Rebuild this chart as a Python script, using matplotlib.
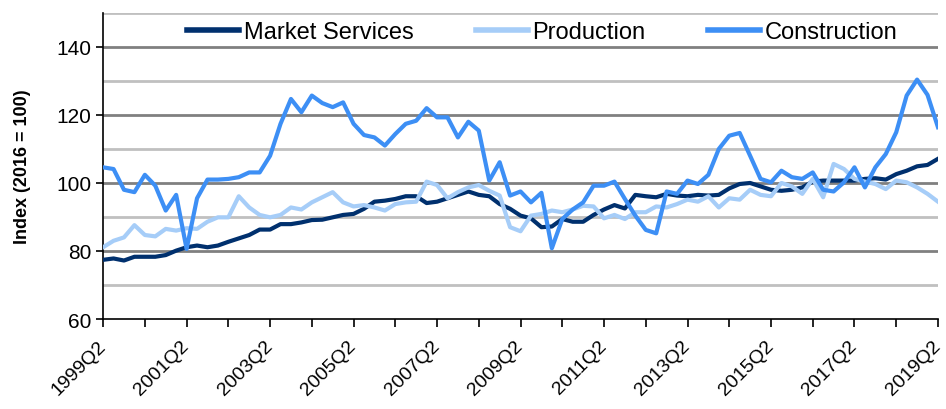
import matplotlib
matplotlib.use("Agg")
import matplotlib.pyplot as plt
import numpy as np

plt.rcParams['font.family'] = ['Liberation Sans', 'DejaVu Sans']

# quarterly index values, 1999Q2 .. 2019Q2
quarters = [f"{1999 + (q + 1) // 4}Q{(q + 1) % 4 + 1}" for q in range(81)]

market_services = [
    77.4, 77.8, 77.2, 78.3, 78.3, 78.3, 78.8, 80.1, 81.1, 81.6,
    81.1, 81.6, 82.7, 83.7, 84.7, 86.3, 86.3, 87.9, 87.9, 88.4,
    89.1, 89.2, 89.9, 90.6, 90.9, 92.4, 94.5, 94.8, 95.3, 96.1,
    96.1, 94.1, 94.5, 95.5, 96.5, 97.5, 96.5, 96.1, 93.8, 92.4,
    90.4, 89.6, 87.0, 87.2, 89.4, 88.6, 88.6, 90.6, 92.2, 93.5,
    92.5, 96.5, 96.1, 95.8, 96.8, 96.3, 96.1, 96.5, 96.3, 96.5,
    98.4, 99.7, 100.0, 99.0, 98.0, 97.7, 98.0, 98.7, 100.4, 100.7,
    100.7, 100.7, 100.7, 101.2, 101.4, 101.0, 102.6, 103.6, 104.9, 105.3,
    107.1,
]
production = [
    81.1, 83.0, 84.0, 87.6, 84.7, 84.3, 86.5, 86.0, 86.7, 86.5,
    88.6, 89.9, 89.9, 96.1, 92.8, 90.6, 89.9, 90.6, 92.8, 92.2,
    94.3, 95.8, 97.3, 94.3, 93.1, 93.5, 92.8, 91.9, 93.8, 94.3,
    94.5, 100.4, 99.4, 95.5, 97.3, 98.7, 99.4, 97.7, 96.3, 87.0,
    85.8, 90.4, 90.9, 91.9, 91.4, 92.2, 93.3, 93.1, 89.6, 90.6,
    89.4, 91.4, 91.4, 93.1, 92.8, 93.8, 95.1, 94.5, 96.1, 92.8,
    95.5, 95.1, 98.0, 96.5, 96.1, 100.0, 99.0, 96.8, 101.2, 95.8,
    105.6, 104.1, 101.2, 100.4, 99.7, 98.2, 100.7, 100.2, 98.7, 96.8,
    94.5,
]
construction = [
    104.6, 104.1, 98.0, 97.3, 102.4, 99.2, 91.9, 96.5, 80.6, 95.5,
    101.0, 101.0, 101.2, 101.7, 103.1, 103.1, 108.0, 117.4, 124.7, 120.8,
    125.7, 123.5, 122.3, 123.7, 117.4, 114.1, 113.4, 111.0, 114.4, 117.4,
    118.3, 122.0, 119.3, 119.3, 113.4, 118.0, 115.4, 100.7, 106.1, 96.3,
    97.5, 94.3, 97.1, 80.8, 89.4, 92.2, 94.3, 99.2, 99.2, 100.4,
    95.3, 90.4, 86.2, 85.2, 97.5, 96.8, 100.7, 99.7, 102.4, 110.0,
    113.9, 114.7, 108.0, 101.2, 100.2, 103.6, 101.7, 101.2, 103.1, 98.0,
    97.5, 100.2, 104.6, 98.7, 104.6, 108.5, 114.9, 125.7, 130.4, 125.9,
    116.4,
]

x = np.arange(len(quarters))

fig = plt.figure(figsize=(9.46, 4.10), dpi=100)
ax = fig.add_axes([0.109, 0.2195, 0.8825, 0.7465])

# alternating grid: dark at multiples of 20, light in between
for val in range(70, 151, 10):
    col = '#808080' if val % 20 == 0 else '#c0c0c0'
    ax.axhline(val, color=col, linewidth=2, zorder=1)

lw = 3.0
ax.plot(x, market_services, color='#00306e', linewidth=lw, label='Market Services', zorder=3)
ax.plot(x, production, color='#a6cdf8', linewidth=lw, label='Production', zorder=3)
ax.plot(x, construction, color='#3d8ff5', linewidth=lw, label='Construction', zorder=3)

ax.set_xlim(0, 80)
ax.set_ylim(60, 150)
ax.set_yticks(range(60, 141, 20))
ax.set_xticks(range(0, 81, 4))
ax.set_xticklabels([quarters[i] if i % 8 == 0 else '' for i in range(0, 81, 4)],
                   rotation=45, ha='right', va='center', rotation_mode='anchor', fontsize=14)
ax.tick_params(axis='y', labelsize=15, length=5, width=1.2, direction='out')
ax.tick_params(axis='x', length=6, width=1.2, direction='out', pad=11)

for side in ['top', 'right']:
    ax.spines[side].set_visible(False)
for side in ['left', 'bottom']:
    ax.spines[side].set_linewidth(1.2)

ax.set_ylabel('Index (2016 = 100)', fontsize=13, fontweight='bold', labelpad=18)

leg = ax.legend(loc='center', bbox_to_anchor=(0.526, 0.938), ncol=3, frameon=False,
                fontsize=17, handlelength=2.2, columnspacing=2.65, handletextpad=0.2,
                borderpad=0.1)
for line in leg.get_lines():
    line.set_linewidth(4)

fig.savefig('out.png', dpi=100)
